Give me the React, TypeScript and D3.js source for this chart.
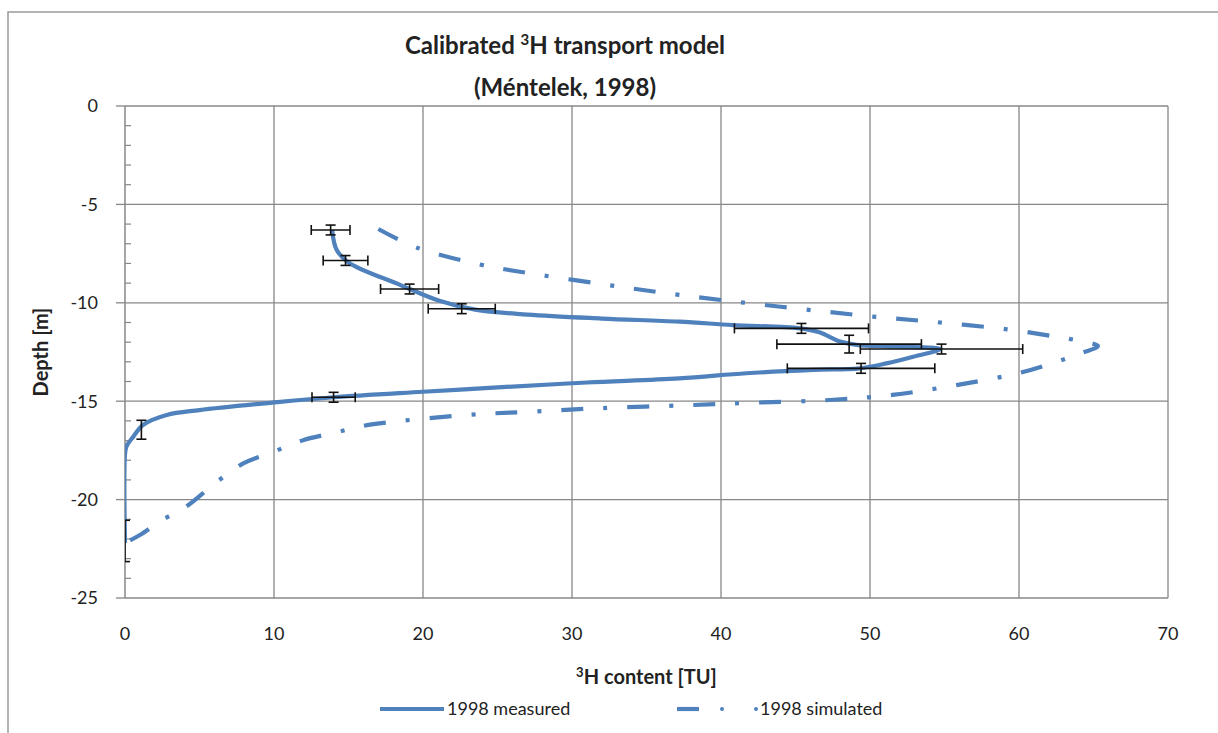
import React from "react";
import * as d3 from "d3";

// ---- data ----
const xTicks = [0, 10, 20, 30, 40, 50, 60, 70];
const yTicks = [0, -5, -10, -15, -20, -25];
const yMinorTicks = d3.range(0, -26, -1);

// measured points with error bars
const measTU = [13.8, 14.8, 19.1, 22.6, 45.4, 48.6, 54.8, 49.4, 14.0, 1.1, 0];
const measDepth = [-6.3, -7.85, -9.3, -10.3, -11.3, -12.1, -12.35, -13.33, -14.8, -16.45, -22.1];
const measErrTU = [1.3, 1.5, 1.95, 2.25, 4.5, 4.85, 5.45, 4.95, 1.45, 0.12, 0];
const measErrDepth = [0.25, 0.25, 0.25, 0.25, 0.25, 0.45, 0.25, 0.25, 0.25, 0.48, 1.05];

// measured smoothed line
const lineTU = [13.9, 14.2, 15.0, 18.5, 21.1, 23.5, 27, 32, 37.2, 40.8, 45.3, 46.6, 48, 49.1, 51.8, 54.7,
  52.9, 51.1, 49.3, 46.2, 41.7, 37.2, 31, 25, 20, 14, 10.2, 5, 2.8, 1.23, 0.56, 0.1, 0, 0];
const lineDepth = [-6.3, -7.3, -7.95, -9.1, -9.9, -10.35, -10.6, -10.8, -10.96, -11.13, -11.3, -11.5, -11.97, -12.14, -12.23, -12.35,
  -12.74, -13.08, -13.33, -13.41, -13.58, -13.84, -14.05, -14.3, -14.52, -14.8, -15.05, -15.45, -15.7, -16.2, -16.8, -17.3, -17.7, -22.2];

// simulated
const simTU = [17.0, 19.6, 23.8, 26.5, 32, 37.2, 44, 50.2, 54.7, 59.2, 62.3, 64.5, 65.3, 64.2, 62.5, 60.1, 55.8, 51.5,
  47.3, 42.4, 37.9, 32, 27.4, 22.9, 16, 14.2, 12, 10, 7.94, 6.04, 4.1, 2.35, 1.0, 0];
const simDepth = [-6.25, -7.2, -8.05, -8.42, -9.05, -9.6, -10.2, -10.7, -11.0, -11.35, -11.7, -12.0, -12.2, -12.55, -13.0, -13.55, -14.18, -14.68,
  -14.94, -15.07, -15.2, -15.35, -15.53, -15.7, -16.25, -16.58, -16.97, -17.56, -18.16, -19.17, -20.36, -21.1, -21.8, -22.2];

const seriesNames = ["1998 measured", "1998 simulated"];

const FONT = "Lato, 'Open Sans', 'DejaVu Sans', sans-serif";
const BLUE = "#4F81BD";
const GRID = "#878787";

export default function App() {
  const W = 1218, H = 733;
  const x = d3.scaleLinear().domain([0, 70]).range([125, 1168]);
  const y = d3.scaleLinear().domain([-25, 0]).range([598, 106]);

  const line = d3.line<[number, number]>()
    .x(d => x(d[0])).y(d => y(d[1]))
    .curve(d3.curveCatmullRom.alpha(0.5));

  const measLine = line(lineTU.map((v, i) => [v, lineDepth[i]]));
  const simLine = line(simTU.map((v, i) => [v, simDepth[i]]));

  const cap = 5;
  const titleX = 565;

  return (
    <svg width={W} height={H} style={{ position: "absolute", left: 0, top: 0, background: "#fff" }}
      fontFamily={FONT}>
      <defs>
        <clipPath id="plotclip">
          <rect x={x(0)} y={y(0) - 2} width={x(70) - x(0) + 2} height={y(-25) - y(0) + 4} />
        </clipPath>
      </defs>
      {/* outer chart border */}
      <rect x={8} y={12} width={1220} height={740} fill="#fff" stroke="#9a9a9a" strokeWidth={1.5} />

      {/* title */}
      <text x={titleX} y={54} textAnchor="middle" fontSize={24} fontWeight="bold" fill="#222">
        Calibrated <tspan fontSize={15} dy={-9}>3</tspan><tspan dy={9}>H transport model</tspan>
      </text>
      <text x={titleX} y={96} textAnchor="middle" fontSize={24} fontWeight="bold" fill="#222">
        (Méntelek, 1998)
      </text>

      {/* grid */}
      {xTicks.slice(1).map(t => (
        <line key={"gx" + t} x1={x(t)} x2={x(t)} y1={y(0)} y2={y(-25)} stroke={GRID} strokeWidth={1.3} />
      ))}
      {yTicks.map(t => (
        <line key={"gy" + t} x1={x(0)} x2={x(70)} y1={y(t)} y2={y(t)} stroke={GRID} strokeWidth={1.3} />
      ))}
      {/* y axis */}
      <line x1={x(0)} x2={x(0)} y1={y(0)} y2={y(-25)} stroke={GRID} strokeWidth={1.5} />
      {yTicks.map(t => (
        <line key={"yt" + t} x1={x(0) - 9} x2={x(0)} y1={y(t)} y2={y(t)} stroke={GRID} strokeWidth={1.3} />
      ))}
      {yMinorTicks.filter(t => t % 5 !== 0).map(t => (
        <line key={"ym" + t} x1={x(0)} x2={x(0) + 6} y1={y(t)} y2={y(t)} stroke={GRID} strokeWidth={1.2} />
      ))}

      {/* tick labels */}
      {yTicks.map(t => (
        <text key={"yl" + t} x={98} y={y(t)} dy="0.35em" textAnchor="end" fontSize={18} fill="#222">{t}</text>
      ))}
      {xTicks.map(t => (
        <text key={"xl" + t} x={x(t)} y={640} textAnchor="middle" fontSize={18} fill="#222">{t}</text>
      ))}

      {/* axis titles */}
      <text transform={`translate(48,${(y(0) + y(-25)) / 2}) rotate(-90)`} textAnchor="middle" fontSize={20}
        fontWeight="bold" fill="#222">Depth [m]</text>
      <text x={(x(0) + x(70)) / 2} y={684} textAnchor="middle" fontSize={20} fontWeight="bold" fill="#222">
        <tspan fontSize={13} dy={-7}>3</tspan><tspan dy={7}>H content [TU]</tspan>
      </text>

      {/* series */}
      <g clipPath="url(#plotclip)">
        <path d={simLine || ""} fill="none" stroke={BLUE} strokeWidth={4.2} strokeDasharray="22,20,4,20" />
        <path d={measLine || ""} fill="none" stroke={BLUE} strokeWidth={4.2} strokeLinejoin="round" />
        {/* error bars */}
        {measTU.map((v, i) => {
          const cx = x(v), cy = y(measDepth[i]);
          const ex0 = x(v - measErrTU[i]), ex1 = x(v + measErrTU[i]);
          const ey0 = y(measDepth[i] + measErrDepth[i]), ey1 = y(measDepth[i] - measErrDepth[i]);
          return (
            <g key={"eb" + i} stroke="#111" strokeWidth={1.6}>
              {measErrTU[i] > 0.5 && (
                <>
                  <line x1={ex0} x2={ex1} y1={cy} y2={cy} />
                  <line x1={ex0} x2={ex0} y1={cy - cap} y2={cy + cap} />
                  <line x1={ex1} x2={ex1} y1={cy - cap} y2={cy + cap} />
                </>
              )}
              <line x1={cx} x2={cx} y1={ey0} y2={ey1} />
              <line x1={cx - cap} x2={cx + cap} y1={ey0} y2={ey0} />
              <line x1={cx - cap} x2={cx + cap} y1={ey1} y2={ey1} />
            </g>
          );
        })}
      </g>

      {/* legend */}
      <line x1={380} x2={444} y1={709} y2={709} stroke={BLUE} strokeWidth={4.2} />
      <text x={447} y={715} fontSize={18} fill="#222">{seriesNames[0]}</text>
      <line x1={677} x2={699} y1={709} y2={709} stroke={BLUE} strokeWidth={4.2} />
      <circle cx={722} cy={709} r={2} fill={BLUE} />
      <circle cx={756} cy={709} r={2} fill={BLUE} />
      <text x={760} y={715} fontSize={18} fill="#222">{seriesNames[1]}</text>
    </svg>
  );
}
